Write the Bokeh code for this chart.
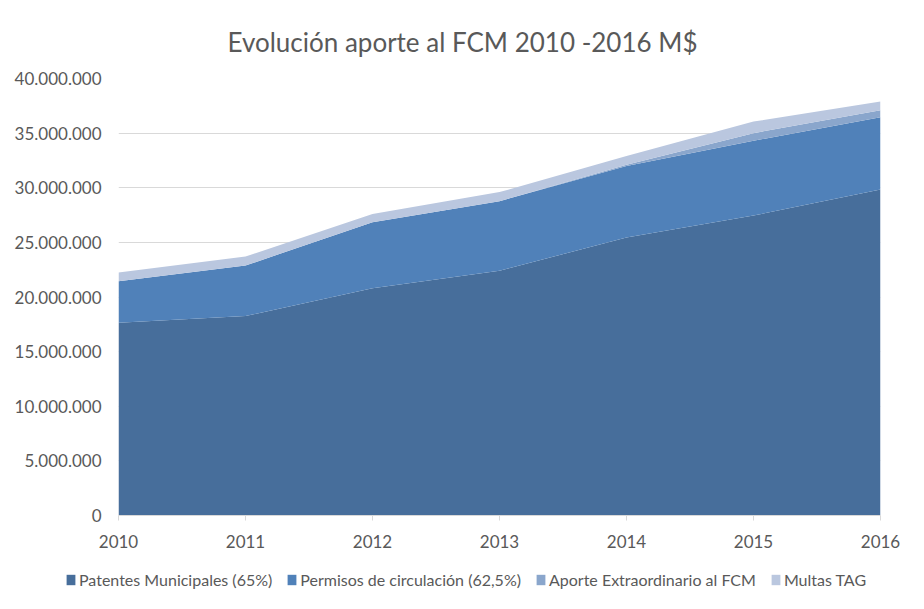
from bokeh.plotting import figure
from bokeh.layouts import column, row
from bokeh.models import ColumnDataSource, FixedTicker, Legend, LegendItem
from bokeh.embed import file_html
from bokeh.resources import INLINE

years = [2010, 2011, 2012, 2013, 2014, 2015, 2016]
patentes = [17640000, 18250000, 20800000, 22400000, 25450000, 27450000, 29850000]
permisos = [3810000, 4630000, 6050000, 6370000, 6550000, 6850000, 6600000]
aporte = [0, 0, 0, 0, 100000, 700000, 650000]
multas = [790000, 820000, 750000, 830000, 800000, 1060000, 800000]

series_names = ["Patentes Municipales (65%)", "Permisos de circulación (62,5%)",
                "Aporte Extraordinario al FCM", "Multas TAG"]
colors = ["#476e9b", "#5081b9", "#8aa6cc", "#bac7df"]
y_ticks = [0, 5000000, 10000000, 15000000, 20000000, 25000000, 30000000, 35000000, 40000000]

FONT = "Lato"
TXT = "#595959"

src = ColumnDataSource(dict(x=years, s0=patentes, s1=permisos, s2=aporte, s3=multas))

p = figure(width=924, height=552, output_backend="svg", toolbar_location=None,
           x_range=(2010, 2016), y_range=(0, 40000000),
           min_border_left=118, min_border_right=44, min_border_top=78, min_border_bottom=37)

renderers = p.varea_stack(stackers=["s0", "s1", "s2", "s3"], x="x", color=colors, source=src)

p.title.text = "Evolución aporte al FCM 2010 -2016 M$"
p.title.align = "left"
p.title.offset = 109
p.title.text_font = FONT
p.title.text_font_size = "26px"
p.title.text_font_style = "normal"
p.title.text_color = TXT
p.title.standoff = 42

p.outline_line_color = None
p.xgrid.grid_line_color = None
p.ygrid.grid_line_color = "#d9d9d9"
p.ygrid.grid_line_width = 1

p.yaxis.ticker = FixedTicker(ticks=y_ticks)
p.yaxis.major_label_overrides = {t: f"{t:,}".replace(",", ".") for t in y_ticks}
p.yaxis.axis_line_color = None
p.yaxis.major_tick_line_color = None
p.yaxis.minor_tick_line_color = None
p.yaxis.major_label_standoff = 11

p.xaxis.ticker = FixedTicker(ticks=years)
p.xaxis.axis_line_color = "#d9d9d9"
p.xaxis.major_tick_line_color = "#d9d9d9"
p.xaxis.major_tick_in = 0
p.xaxis.major_tick_out = 5
p.xaxis.minor_tick_line_color = None
p.xaxis.major_label_standoff = 14

for ax in (p.xaxis, p.yaxis):
    ax.major_label_text_font = FONT
    ax.major_label_text_font_size = "17px"
    ax.major_label_text_color = TXT

# legend strip below the chart (swatches are off-range dummies of the same colours)
lf = figure(width=924, height=55, output_backend="svg", toolbar_location=None,
            x_range=(0, 1), y_range=(0, 1), min_border=0)
lf.axis.visible = False
lf.grid.visible = False
lf.outline_line_color = None
dummies = [lf.varea(x=[-2, -1], y1=[-2, -2], y2=[-1, -1], color=c) for c in colors]

legend = Legend(items=[LegendItem(label=n, renderers=[r]) for n, r in zip(series_names, dummies)],
                orientation="horizontal", location=(65, 18),
                label_text_font=FONT, label_text_font_size="16px", label_text_color=TXT,
                glyph_width=11, glyph_height=13, spacing=14, label_standoff=3,
                border_line_color=None, background_fill_alpha=0, padding=4, margin=0)
lf.add_layout(legend)

layout = column(p, row(lf), spacing=0)
open("out.html", "w").write(file_html(layout, INLINE))
